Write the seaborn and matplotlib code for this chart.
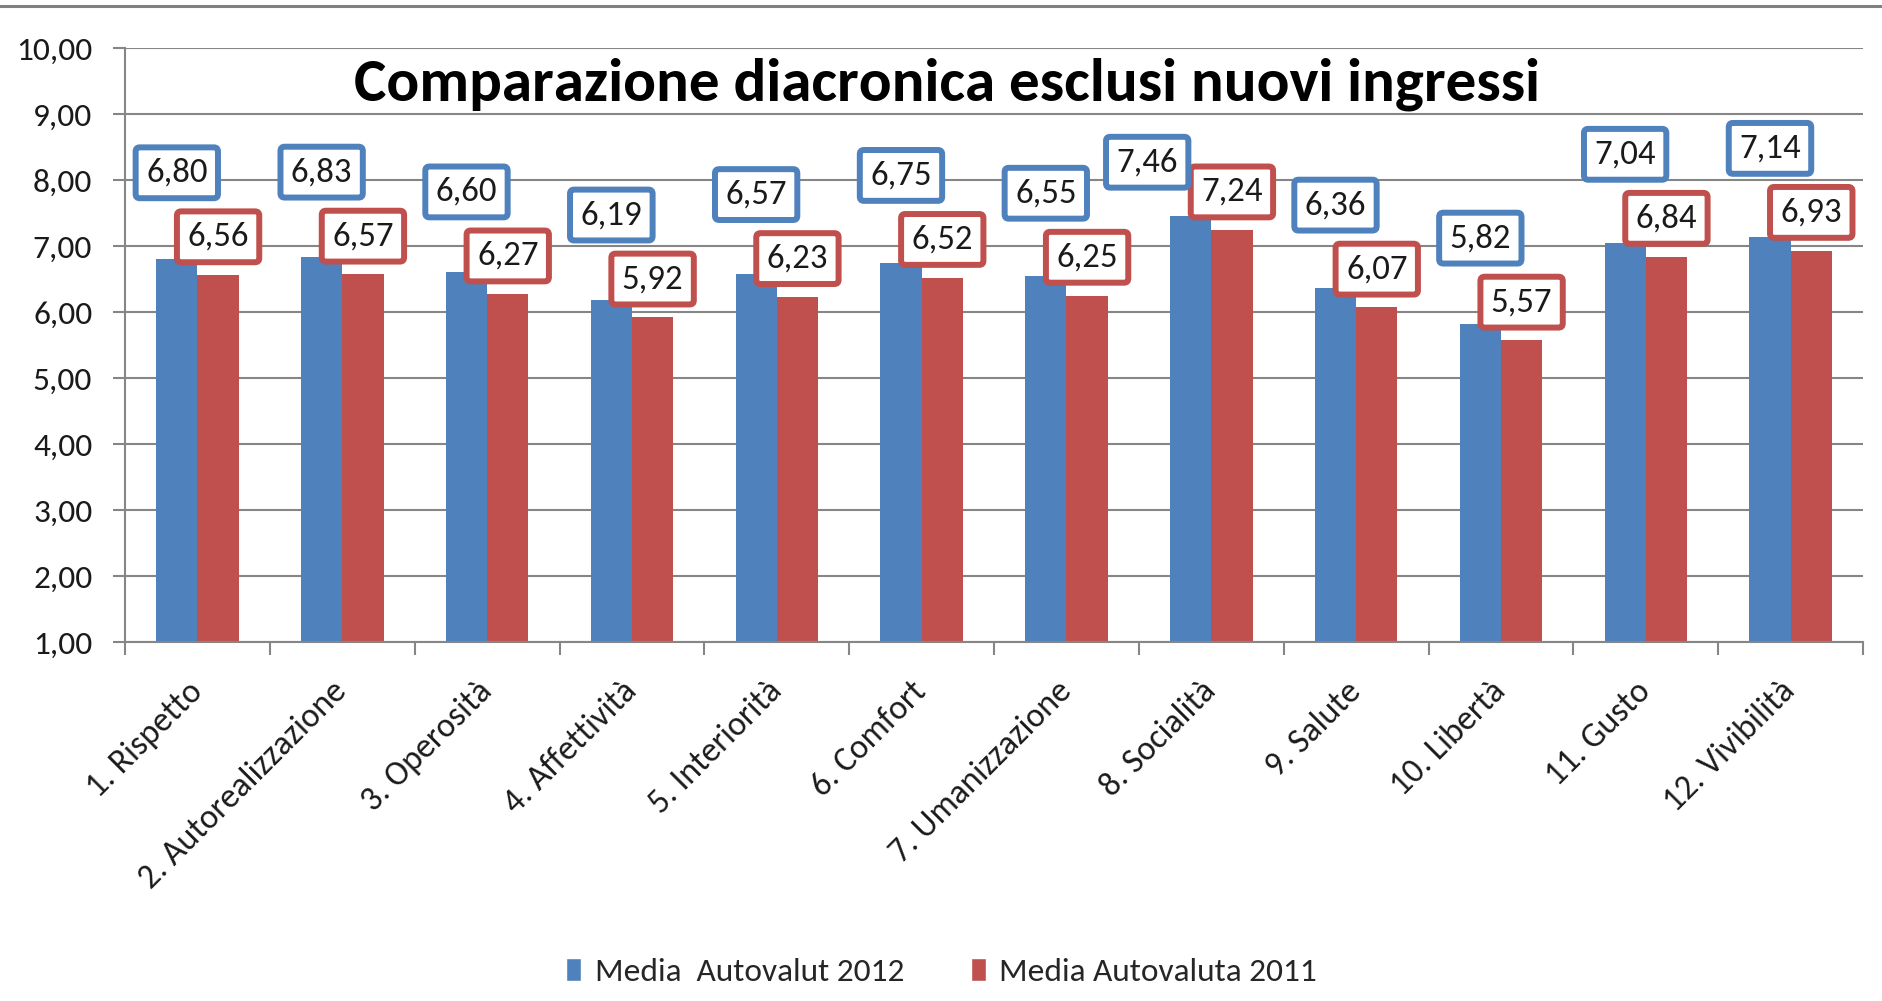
import matplotlib
matplotlib.use('Agg')
import numpy as np
import pandas as pd
import seaborn as sns
import matplotlib.pyplot as plt
from matplotlib import font_manager
from matplotlib.lines import Line2D
from matplotlib.patches import Patch

# values
categorie = ['1. Rispetto', '2. Autorealizzazione', '3. Operosità', '4. Affettività',
             '5. Interiorità', '6. Comfort', '7. Umanizzazione', '8. Socialità',
             '9. Salute', '10. Libertà', '11. Gusto', '12. Vivibilità']
media_2012 = [6.80, 6.83, 6.60, 6.19, 6.57, 6.75, 6.55, 7.46, 6.36, 5.82, 7.04, 7.14]
media_2011 = [6.56, 6.57, 6.27, 5.92, 6.23, 6.52, 6.25, 7.24, 6.07, 5.57, 6.84, 6.93]
serie = ['Media  Autovalut 2012', 'Media Autovaluta 2011']
titolo = 'Comparazione diacronica esclusi nuovi ingressi'

BLUE = '#4F81BD'
RED = '#C0504D'
GRID = '#868686'
TXT = '#1a1a1a'

installed = {f.name for f in font_manager.fontManager.ttflist}
font = next(f for f in ['Carlito', 'Calibri', 'Lato', 'DejaVu Sans'] if f in installed)

sns.set_style('white')
plt.rcParams['font.family'] = [font, 'DejaVu Sans']

df = pd.DataFrame({
    'categoria': categorie * 2,
    'valore': media_2012 + media_2011,
    'serie': [serie[0]] * len(categorie) + [serie[1]] * len(categorie),
})

fig = plt.figure(figsize=(18.83, 10.01), dpi=100)
ax = fig.add_axes([0.0664, 0.3586, 0.9230, 0.5934])

sns.barplot(data=df, x='categoria', y='valore', hue='serie', order=categorie,
            hue_order=serie, palette=[BLUE, RED], width=0.57, gap=0,
            saturation=1, linewidth=0, ax=ax, legend=False, zorder=2)

ax.set_ylim(1, 10)
ax.set_xlim(-0.5, len(categorie) - 0.5)
ax.set_xlabel('')
ax.set_ylabel('')

# y axis
ax.set_yticks(range(1, 11))
ax.set_yticklabels([f'{v},00' for v in range(1, 11)], fontsize=24, color=TXT)
ax.yaxis.grid(True, color=GRID, lw=1.5, zorder=0)
ax.set_axisbelow(True)
ax.tick_params(axis='y', direction='out', length=8.6, width=1.5, color=GRID, pad=15, left=True)

# x axis: ticks between categories, labels at the centres
ax.set_xticks(np.arange(-0.5, len(categorie), 1))
ax.set_xticklabels([])
ax.set_xticks(np.arange(len(categorie)), minor=True)
ax.set_xticklabels(categorie, minor=True, rotation=45, ha='right', va='center',
                   rotation_mode='anchor', fontsize=24.5, color=TXT)
ax.tick_params(axis='x', which='major', direction='out', length=9.5, width=1.5,
               color=GRID, bottom=True)
ax.tick_params(axis='x', which='minor', length=0, pad=32)

for s in ['top', 'right']:
    ax.spines[s].set_visible(False)
for s in ['left', 'bottom']:
    ax.spines[s].set_color(GRID)
    ax.spines[s].set_linewidth(1.5)

# data labels in coloured boxes
nudge_2012 = {'8. Socialità': (-0.3, -0.52)}
for i, cat in enumerate(categorie):
    b12 = ax.containers[0][i]
    b11 = ax.containers[1][i]
    x12 = b12.get_x() + b12.get_width() / 2
    x11 = b11.get_x() + b11.get_width() / 2
    y11 = media_2011[i] + 0.58
    y12 = y11 + 0.97
    dx, dy = nudge_2012.get(cat, (0, 0))
    for x, y, v, c in [(x11, y11, media_2011[i], RED), (x12 + dx, y12 + dy, media_2012[i], BLUE)]:
        ax.text(x, y, f'{v:.2f}'.replace('.', ','), ha='center', va='center',
                fontsize=25, color=TXT, zorder=5,
                bbox=dict(boxstyle='round,pad=0.3,rounding_size=0.12',
                          fc='white', ec=c, lw=4.3))

fig.text(0.503, 0.900, titolo, ha='center', va='baseline', fontsize=44,
         fontweight='bold', color='black')

handles = [Patch(facecolor=BLUE), Patch(facecolor=RED)]
fig.legend(handles, serie, loc='center', bbox_to_anchor=(0.5, 0.029), ncol=2,
           frameon=False, fontsize=24, handlelength=0.45, handleheight=0.7,
           handletextpad=0.4, columnspacing=2.0)

fig.add_artist(Line2D([0, 1], [0.994, 0.994], color='#808080', lw=2.2))

fig.savefig('out.png', dpi=100)
